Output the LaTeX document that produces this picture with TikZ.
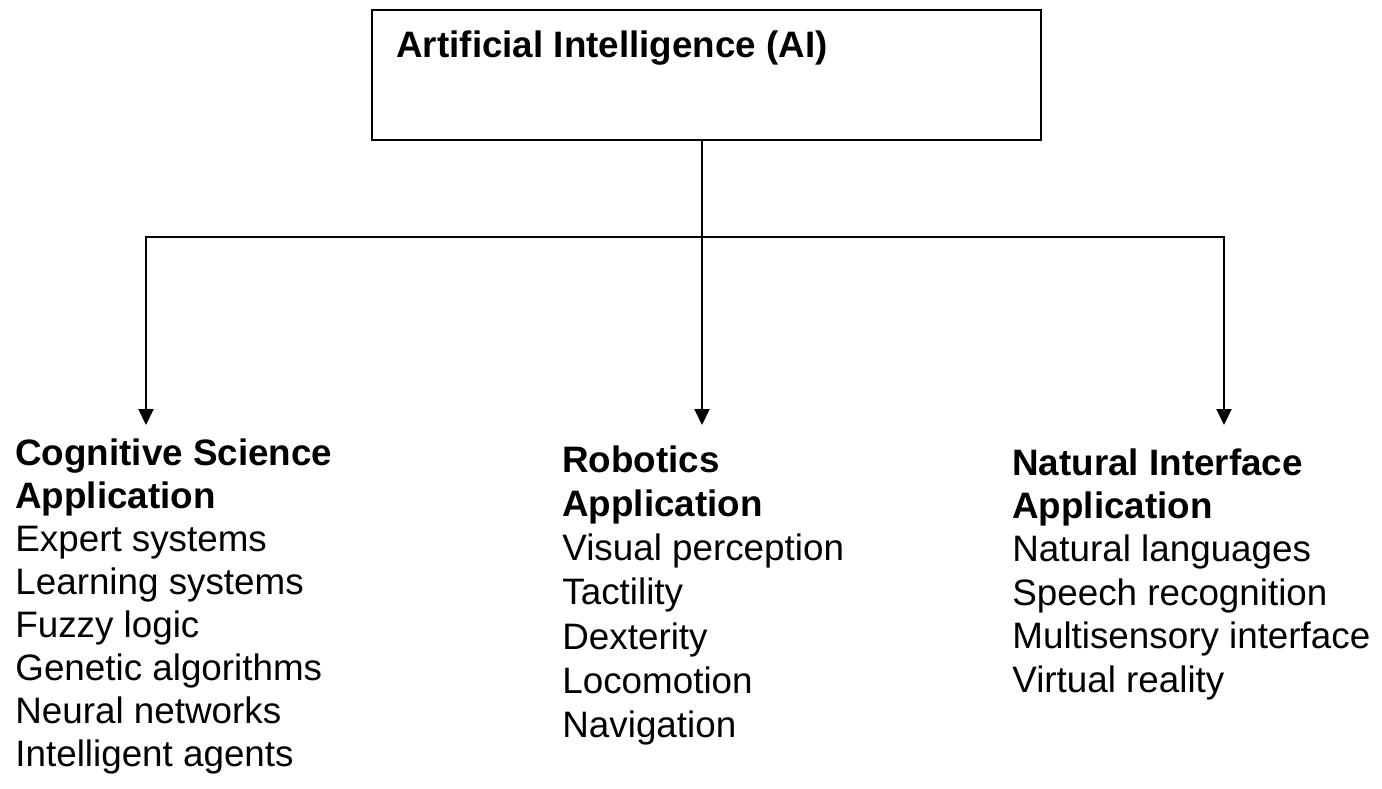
\documentclass[tikz,border=0pt]{standalone}
\usepackage{fontspec}
\setmainfont{Liberation Sans}
\usetikzlibrary{arrows.meta}
\begin{document}
\begin{tikzpicture}[x=0.5pt,y=-0.5pt,
  conn/.style={line width=1pt},
  arr/.style={conn,-{Triangle[width=7.5pt,length=8pt]}},
  txt/.style={anchor=base west,inner sep=0pt,font=\fontsize{18.4}{21}\selectfont},
  head/.style={anchor=base west,inner sep=0pt,font=\fontsize{18.4}{21}\selectfont\bfseries},
  aibox/.style={draw,line width=1.1pt,minimum width=334.5pt,minimum height=65pt,inner sep=0pt}]
\useasboundingbox (0,0) rectangle (1382,788);
% top box
\node[aibox] (ai) at (706.5,75) {};
\node[head] (title) at (396,57) {Artificial Intelligence (AI)};
% junction coordinates
\coordinate (j) at (702,237);
\coordinate (tl) at (146,425);
\coordinate (tm) at (702,425);
\coordinate (tr) at (1224,425);
% connectors
\draw[conn] (ai.south -| j) -- (j);
\draw[arr] (j) -| (tl);
\draw[arr] (j) -| (tr);
\draw[arr] (j) -- (tm);
% Cognitive column
\node[head] (ch1) at (15,465) {Cognitive Science};
\node[head] (ch2) at (15,508) {Application};
\foreach \t [count=\i from 0] in {Expert systems,Learning systems,Fuzzy logic,Genetic algorithms,Neural networks,Intelligent agents}
  \node[txt] (c\i) at (15,551+43*\i) {\t};
% Robotics column
\node[head] (rh1) at (562,472) {Robotics};
\node[head] (rh2) at (562,516.3) {Application};
\foreach \t [count=\i from 0] in {Visual perception,Tactility,Dexterity,Locomotion,Navigation}
  \node[txt] (r\i) at (562,560.6+44.3*\i) {\t};
% Natural interface column
\node[head] (nh1) at (1012,475) {Natural Interface};
\node[head] (nh2) at (1012,518.4) {Application};
\foreach \t [count=\i from 0] in {Natural languages,Speech recognition,Multisensory interface,Virtual reality}
  \node[txt] (n\i) at (1012,561.8+43.4*\i) {\t};
\end{tikzpicture}
\end{document}
